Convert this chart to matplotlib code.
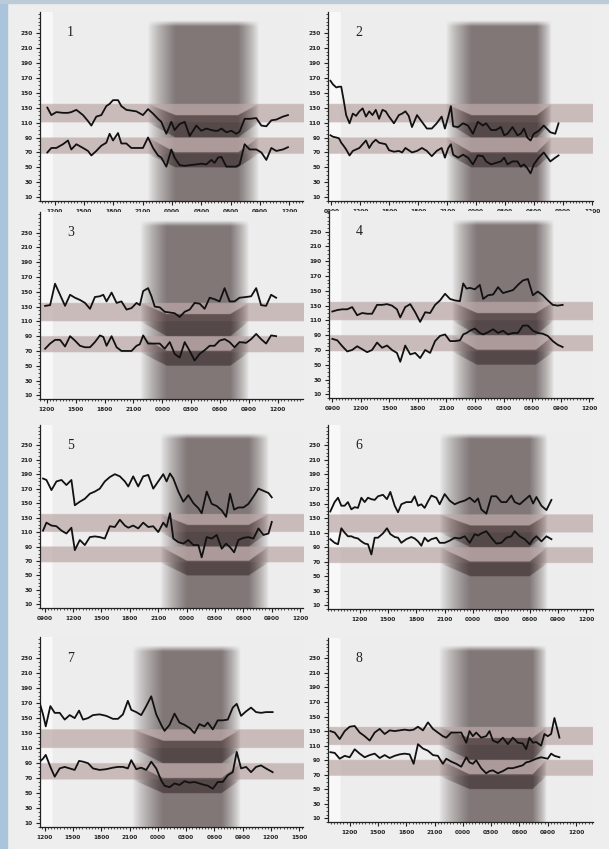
import numpy as np
import matplotlib
matplotlib.use("Agg")
import matplotlib.pyplot as plt
from matplotlib.patches import Rectangle
from matplotlib.ticker import FixedLocator, MultipleLocator, FuncFormatter

# Normal ranges (mmHg): day / night
SYS_DAY = (110, 135)
DIA_DAY = (68, 90)
SYS_NIGHT = (90, 120)
DIA_NIGHT = (50, 70)

# Clock time in hours (24+ = next day)
t1 = [11.25, 11.66, 12.17, 12.85, 13.36, 13.70, 14.22, 14.90, 15.41, 15.75,
      16.26, 16.77, 17.28, 17.62, 17.97, 18.48, 18.82, 19.33, 19.84, 20.35,
      21.03, 21.55, 22.06, 22.57, 22.91, 23.42, 23.93, 24.27, 24.78, 25.30,
      25.81, 26.49, 27.00, 27.51, 28.02, 28.36, 28.70, 29.05, 29.56, 30.07,
      30.58, 30.92, 31.43, 31.94, 32.62, 33.14, 33.65, 34.16, 34.67, 35.35, 35.86]
sys1 = [130, 120, 124, 123, 123, 124, 127, 120, 112, 106, 118, 120, 132, 135, 140, 140, 132,
        127, 126, 125, 120, 128, 122, 115, 111, 95, 111, 100, 108, 111, 92, 106, 99, 102,
        100, 99, 99, 102, 97, 99, 95, 98, 115, 115, 116, 106, 105, 113, 114, 118, 120]
dia1 = [70, 76, 76, 81, 86, 74, 81, 76, 72, 66, 72, 79, 83, 95, 86, 96, 82, 82, 76, 76,
        76, 90, 76, 66, 63, 51, 74, 63, 53, 52, 53, 54, 55, 54, 60, 56, 63, 64, 51, 51,
        51, 54, 81, 74, 74, 70, 60, 76, 72, 74, 77]

t2 = [8.90, 9.17, 9.51, 9.78, 10.02, 10.26, 10.53, 10.88, 11.22, 11.56,
      11.90, 12.24, 12.58, 12.92, 13.26, 13.60, 13.94, 14.29, 14.63, 14.97,
      15.48, 15.99, 16.33, 16.67, 17.01, 17.35, 17.87, 18.38, 18.89, 19.40,
      19.91, 20.42, 20.76, 21.11, 21.38, 21.62, 22.13, 22.64, 23.15, 23.66,
      24.17, 24.69, 25.03, 25.54, 26.05, 26.56, 26.90, 27.24, 27.76, 28.27,
      28.61, 28.95, 29.29, 29.63, 29.97, 30.48, 31.00, 31.68, 32.19, 32.53]
sys2 = [166, 161, 157, 158, 158, 141, 120, 109, 122, 119, 125, 129, 118, 125, 120, 127, 115,
        127, 125, 118, 109, 120, 122, 125, 119, 104, 120, 111, 102, 102, 109, 118, 102, 118,
        132, 105, 104, 109, 106, 95, 111, 106, 109, 100, 100, 104, 93, 95, 104, 93,
        95, 102, 90, 86, 95, 99, 106, 97, 95, 109]
dia2 = [93, 91, 90, 89, 83, 79, 74, 66, 72, 74, 76, 81, 86, 76, 83, 87, 83, 82, 81, 73,
        71, 72, 70, 76, 73, 70, 72, 76, 72, 65, 72, 76, 63, 76, 81, 67, 63, 67, 63, 54,
        66, 65, 58, 54, 56, 58, 63, 54, 58, 58, 51, 54, 49, 42, 54, 63, 70, 58, 63, 66]

t3 = [11.83, 12.35, 12.86, 13.38, 13.90, 14.42, 14.93, 15.45, 15.97, 16.49,
      17.00, 17.52, 17.87, 18.21, 18.73, 19.25, 19.76, 20.28, 20.80, 21.32,
      21.66, 22.01, 22.52, 22.87, 23.21, 23.73, 24.25, 24.77, 25.28, 25.80,
      26.32, 26.84, 27.35, 27.87, 28.39, 28.91, 29.42, 29.94, 30.46, 30.98,
      31.49, 32.01, 32.70, 33.22, 33.74, 34.25, 34.77, 35.29, 35.81]
sys3 = [131, 132, 161, 146, 131, 146, 142, 139, 135, 127, 143, 144, 146, 137, 149, 135, 137,
        126, 128, 135, 132, 151, 155, 144, 130, 129, 123, 122, 121, 116, 123, 126, 135, 134,
        127, 142, 140, 137, 155, 137, 137, 142, 143, 144, 155, 132, 131, 146, 142]
dia3 = [73, 80, 85, 85, 76, 90, 84, 77, 75, 75, 82, 91, 89, 77, 90, 75, 70, 70, 70, 77,
        79, 91, 80, 80, 80, 80, 73, 82, 66, 61, 82, 70, 57, 66, 71, 77, 77, 84, 86, 82,
        75, 82, 81, 86, 93, 86, 80, 91, 90]

t4 = [9.00, 9.52, 10.05, 10.57, 11.09, 11.61, 12.14, 12.66, 13.18, 13.70,
      14.23, 14.75, 15.27, 15.79, 16.14, 16.66, 17.19, 17.71, 18.23, 18.76,
      19.28, 19.80, 20.32, 20.85, 21.37, 21.89, 22.41, 22.76, 23.11, 23.46,
      23.98, 24.50, 24.85, 25.37, 25.90, 26.42, 26.94, 27.46, 27.99, 28.51,
      29.03, 29.56, 30.08, 30.60, 31.12, 31.65, 32.17, 32.69, 33.21]
sys4 = [122, 124, 125, 125, 128, 117, 120, 119, 119, 131, 131, 132, 130, 125, 114, 128, 132,
        121, 108, 121, 120, 131, 137, 146, 139, 137, 136, 160, 153, 154, 152, 158, 139, 144,
        145, 155, 147, 149, 151, 158, 164, 166, 144, 149, 144, 137, 131, 130, 131]
dia4 = [85, 83, 75, 68, 70, 75, 71, 67, 70, 80, 73, 76, 70, 66, 54, 76, 64, 66, 59, 70,
        66, 82, 89, 91, 82, 82, 83, 91, 93, 96, 99, 93, 91, 94, 98, 93, 96, 91, 93, 93,
        103, 103, 96, 93, 92, 89, 82, 77, 74]

t5 = [8.82, 9.18, 9.71, 10.24, 10.77, 11.29, 11.82, 12.18, 12.71, 13.24,
      13.77, 14.30, 14.82, 15.35, 15.88, 16.41, 16.94, 17.47, 17.83, 18.35,
      18.88, 19.41, 19.94, 20.47, 21.00, 21.53, 21.88, 22.24, 22.59, 23.12,
      23.65, 24.18, 24.71, 25.24, 25.59, 26.12, 26.65, 27.18, 27.71, 28.17,
      28.59, 29.02, 29.47, 30.00, 30.53, 31.06, 31.59, 32.12, 32.65, 33.00]
sys5 = [184, 182, 168, 180, 182, 175, 182, 147, 152, 156, 163, 166, 170, 180, 186, 190, 187,
        180, 173, 187, 173, 187, 189, 170, 180, 190, 180, 191, 184, 166, 152, 161, 150, 143,
        136, 166, 149, 146, 140, 131, 163, 141, 144, 144, 149, 159, 170, 167, 164, 158]
dia5 = [112, 123, 119, 118, 112, 108, 116, 85, 99, 92, 103, 104, 103, 101, 118, 117, 127,
        119, 116, 119, 115, 123, 117, 118, 110, 123, 117, 136, 101, 96, 94, 99, 92, 92,
        75, 103, 101, 106, 87, 94, 89, 82, 99, 102, 103, 101, 115, 106, 108, 124]

t6 = [8.89, 9.35, 9.71, 10.06, 10.41, 10.76, 11.12, 11.47, 11.82, 12.18,
      12.53, 12.88, 13.24, 13.59, 13.94, 14.47, 14.89, 15.25, 15.71, 16.06,
      16.41, 16.94, 17.47, 17.82, 18.18, 18.53, 18.88, 19.24, 19.59, 20.12,
      20.47, 21.00, 21.53, 22.06, 22.59, 23.12, 23.65, 24.18, 24.53, 24.88,
      25.41, 25.94, 26.47, 27.00, 27.53, 28.06, 28.41, 28.94, 29.47, 30.00,
      30.36, 30.71, 31.24, 31.77, 32.30]
sys6 = [139, 152, 158, 147, 147, 152, 142, 145, 144, 158, 152, 158, 156, 155, 160, 162, 156,
        166, 147, 138, 149, 152, 152, 160, 147, 149, 144, 153, 161, 158, 149, 163, 154, 149,
        152, 154, 158, 152, 157, 142, 136, 160, 160, 152, 152, 161, 152, 149, 155, 161,
        150, 159, 147, 141, 155]
dia6 = [101, 96, 94, 116, 110, 105, 105, 103, 102, 98, 95, 94, 80, 103, 103, 109, 116, 108,
        104, 103, 96, 101, 104, 102, 98, 92, 103, 98, 101, 103, 96, 96, 99, 103, 102, 105,
        96, 108, 106, 109, 112, 103, 95, 96, 103, 105, 112, 105, 101, 94, 101, 105, 98, 105, 101]

t7 = [11.47, 11.82, 12.11, 12.60, 13.06, 13.59, 14.12, 14.65, 15.18, 15.64,
      16.06, 16.59, 17.12, 17.82, 18.53, 19.24, 19.77, 20.30, 20.82, 21.18,
      21.71, 22.24, 22.77, 23.30, 23.83, 24.36, 24.71, 25.24, 25.77, 26.30,
      26.83, 27.36, 27.88, 28.41, 28.94, 29.30, 29.83, 30.36, 30.89, 31.42,
      31.95, 32.37, 32.83, 33.36, 33.89, 34.42, 34.95, 35.47, 36.18]
sys7 = [170, 155, 139, 166, 157, 157, 148, 154, 150, 160, 148, 150, 154, 155, 153, 149, 149,
        155, 173, 161, 158, 154, 166, 179, 155, 141, 133, 141, 156, 144, 141, 137, 130, 142,
        139, 144, 135, 147, 147, 148, 164, 169, 153, 159, 164, 158, 157, 158, 158]
dia7 = [92, 96, 101, 85, 72, 83, 85, 83, 81, 93, 92, 90, 83, 81, 82, 84, 85, 85, 83, 94,
        82, 84, 81, 92, 83, 67, 60, 58, 63, 61, 66, 64, 65, 63, 61, 60, 56, 65, 65, 74,
        78, 105, 83, 85, 78, 85, 87, 83, 78]

t8 = [9.95, 10.41, 10.94, 11.47, 12.00, 12.53, 13.06, 13.59, 14.12, 14.65,
      15.18, 15.71, 16.24, 16.77, 17.30, 17.82, 18.35, 18.78, 19.24, 19.77,
      20.30, 20.83, 21.35, 21.88, 22.24, 22.77, 23.30, 23.83, 24.36, 24.71,
      25.06, 25.41, 25.94, 26.47, 26.83, 27.18, 27.71, 28.24, 28.77, 29.30,
      29.83, 30.36, 30.71, 31.06, 31.42, 31.77, 32.30, 32.65, 33.00, 33.36,
      33.71, 34.24]
sys8 = [130, 128, 119, 130, 136, 137, 128, 123, 117, 128, 133, 126, 131, 130, 131, 132, 131,
        132, 136, 131, 142, 133, 128, 123, 121, 128, 128, 128, 114, 130, 123, 128, 121, 123,
        130, 117, 114, 121, 112, 121, 114, 113, 105, 121, 114, 115, 110, 126, 123, 126, 148, 121]
dia8 = [101, 100, 92, 96, 94, 105, 99, 94, 97, 99, 93, 97, 93, 96, 98, 99, 98, 85, 112, 106,
        103, 97, 96, 85, 92, 88, 85, 81, 94, 87, 85, 90, 79, 72, 75, 76, 72, 75, 79, 79,
        81, 83, 87, 88, 90, 92, 94, 93, 92, 99, 96, 94]

# Night shading: fade-in start, full dark, end of full dark, fade-out end (hours)
night1 = [21.5, 24.3, 30.7, 32.8]
night2 = [20.9, 23.5, 30.3, 31.8]
night3 = [21.7, 24.4, 31.0, 32.9]
night4 = [21.6, 24.2, 30.4, 32.3]
night5 = [21.2, 24.0, 30.5, 32.6]
night6 = [20.5, 23.7, 30.0, 31.9]
night7 = [21.3, 24.5, 30.7, 32.7]
night8 = [21.5, 24.7, 31.4, 32.9]

# x range and labelled hours of each panel
xr1, xt1 = (10.5, 37.4), [12, 15, 18, 21, 24, 27, 30, 33, 36]
xr2, xt2 = (8.65, 36.1), [9, 12, 15, 18, 21, 24, 27, 30, 33, 36]
xr3, xt3 = (11.3, 38.6), [12, 15, 18, 21, 24, 27, 30, 33, 36]
xr4, xt4 = (8.65, 36.4), [9, 12, 15, 18, 21, 24, 27, 30, 33, 36]
xr5, xt5 = (8.5, 36.3), [9, 12, 15, 18, 21, 24, 27, 30, 33, 36]
xr6, xt6 = (8.65, 36.7), [12, 15, 18, 21, 24, 27, 30, 33, 36]
xr7, xt7 = (11.5, 39.4), [12, 15, 18, 21, 24, 27, 30, 33, 36, 39]
xr8, xt8 = (9.7, 37.8), [12, 15, 18, 21, 24, 27, 30, 33, 36]

YLIM = (5, 258)

W, H = 609, 849
# pixel frame of each panel: left, right, x-axis row, height
frames = [
    (40, 303, 201, 189), (328, 593, 201, 189),
    (40, 303, 399, 187), (329, 593, 398, 187),
    (40, 303, 608, 183), (328, 593, 609, 184),
    (40, 303, 827, 190), (328, 593, 822, 184),
]

panels = [
    (t1, sys1, dia1, night1, xr1, xt1),
    (t2, sys2, dia2, night2, xr2, xt2),
    (t3, sys3, dia3, night3, xr3, xt3),
    (t4, sys4, dia4, night4, xr4, xt4),
    (t5, sys5, dia5, night5, xr5, xt5),
    (t6, sys6, dia6, night6, xr6, xt6),
    (t7, sys7, dia7, night7, xr7, xt7),
    (t8, sys8, dia8, night8, xr8, xt8),
]

PAPER = np.array([0.93, 0.93, 0.93])
STRIP = np.array([0.975, 0.975, 0.975])
SHADE = np.array([0.47, 0.43, 0.43])
BAND = np.array([0.74, 0.66, 0.66])
NIGHT = np.array([0.27, 0.21, 0.21])


def background(xr, night):
    xs = np.linspace(xr[0], xr[1], 700)
    ys = np.linspace(YLIM[0], YLIM[1], 500)
    X, Y = np.meshgrid(xs, ys)

    s = np.interp(xs, night, [0, 1, 1, 0]) ** 0.8
    top = np.clip((247 - ys) / 8.0, 0, 1)
    S = (s[None, :] * top[:, None])[..., None]

    paper = np.where((X < xr[0] + 1.3)[..., None], STRIP, PAPER)
    img = paper * (1 - 0.92 * S) + SHADE * 0.92 * S

    day = ((Y >= SYS_DAY[0]) & (Y <= SYS_DAY[1])) | ((Y >= DIA_DAY[0]) & (Y <= DIA_DAY[1]))
    a = 0.72 * day[..., None]
    img = img * (1 - a) + BAND * a

    sl = np.interp(xs, night, [SYS_DAY[0], SYS_NIGHT[0], SYS_NIGHT[0], SYS_DAY[0]])
    sh = np.interp(xs, night, [SYS_DAY[1], SYS_NIGHT[1], SYS_NIGHT[1], SYS_DAY[1]])
    dl = np.interp(xs, night, [DIA_DAY[0], DIA_NIGHT[0], DIA_NIGHT[0], DIA_DAY[0]])
    dh = np.interp(xs, night, [DIA_DAY[1], DIA_NIGHT[1], DIA_NIGHT[1], DIA_DAY[1]])
    nb = ((Y >= sl[None, :]) & (Y <= sh[None, :])) | ((Y >= dl[None, :]) & (Y <= dh[None, :]))
    a = (0.72 * nb * s[None, :])[..., None]
    img = img * (1 - a) + NIGHT * a
    return np.clip(img, 0, 1)


def hhmm(v, pos):
    return f"{int(round(v)) % 24:02d}00"


fig = plt.figure(figsize=(W / 100, H / 100), dpi=100, facecolor="#eeeeee")
fig.patches.append(Rectangle((0, 0), 7 / W, 1, transform=fig.transFigure,
                             color="#aac4dc", zorder=0))
fig.patches.append(Rectangle((0, 1 - 3 / H), 1, 3 / H, transform=fig.transFigure,
                             color="#bccbd8", zorder=0))

for k, ((t, sy, di, night, xr, xt), (l, r, b, h)) in enumerate(zip(panels, frames), start=1):
    ax = fig.add_axes([l / W, 1 - b / H, (r - l) / W, h / H])
    ax.set_facecolor("none")
    ax.imshow(background(xr, night), extent=(xr[0], xr[1], YLIM[0], YLIM[1]),
              origin="lower", aspect="auto", interpolation="bilinear", zorder=0)

    ax.plot(t, sy, "-", color="#111111", lw=1.3, zorder=3)
    ax.plot(t, di, "-", color="#111111", lw=1.3, zorder=3)

    ax.set_xlim(*xr)
    ax.set_ylim(*YLIM)
    ax.xaxis.set_major_locator(FixedLocator(xt))
    ax.xaxis.set_major_formatter(FuncFormatter(hhmm))
    ax.xaxis.set_minor_locator(MultipleLocator(1 / 3))
    ax.yaxis.set_major_locator(FixedLocator(list(range(10, 231, 20))))
    ax.yaxis.set_minor_locator(MultipleLocator(5))

    for side in ("top", "right"):
        ax.spines[side].set_visible(False)
    for side in ("left", "bottom"):
        ax.spines[side].set_color("#222222")
        ax.spines[side].set_linewidth(0.9)

    ax.tick_params(which="major", length=3, width=0.8, labelsize=4.2, pad=2.5,
                   colors="#222222")
    ax.tick_params(which="minor", length=1.5, width=0.6, colors="#333333")
    for lab in ax.get_xticklabels() + ax.get_yticklabels():
        lab.set_fontweight("bold")

    ax.text(0.115, 230, str(k), transform=ax.get_yaxis_transform(),
            fontsize=10, family="Liberation Serif", color="#222222",
            ha="center", va="center", zorder=4)

fig.savefig("out.png", dpi=100, facecolor=fig.get_facecolor())
